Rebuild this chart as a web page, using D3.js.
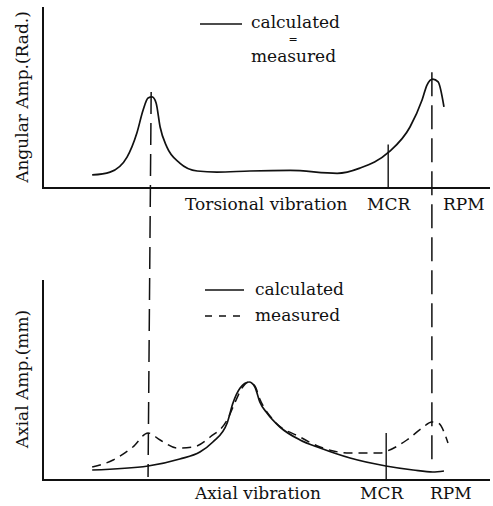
<!DOCTYPE html>
<html><head><meta charset="utf-8">
<script src="https://cdn.jsdelivr.net/npm/d3@7"></script>
<style>body{margin:0;background:#fff}svg{display:block}text{font-family:"DejaVu Serif",serif;fill:#111}</style>
</head><body><div id="chart"></div>
<script>
// Torsional vibration (calculated = measured): [speed, angular amplitude]
const torsionalX = [11.0,15.0,18.8,21.0,22.4,23.5,24.4,25.3,26.2,27.7,30.6,34.5,38.9,46.3,55.3,65.8,70.9,77.4,82.1,84.8,85.9,87.2,88.4,89.7];
const torsionalY = [7.2,8.8,17.1,30.4,43.1,49.7,50.3,47.0,33.7,22.7,13.8,9.4,8.8,9.4,9.7,8.1,11.0,19.9,33.7,48.6,56.9,60.2,58.6,44.8];
// Axial vibration, calculated
const axialCalcX = [11.0,23.5,30.6,35.1,38.0,41.2,42.5,44.1,46.1,47.4,48.5,50.1,53.0,57.5,62.0,68.7,76.7,82.8,87.2,89.7];
const axialCalcY = [5.0,7.0,10.5,14.0,19.0,28.5,38.5,46.0,49.0,46.5,39.0,33.5,26.5,20.0,16.0,11.0,7.0,5.0,4.0,4.5];
// Axial vibration, measured
const axialMeasX = [11.0,15.7,20.1,23.5,26.2,30.0,33.6,37.4,41.2,43.0,44.5,46.1,47.4,48.5,51.5,57.5,62.0,68.7,75.4,77.0,81.4,84.8,87.0,88.4,90.6];
const axialMeasY = [6.5,10.0,16.5,23.5,20.0,16.0,16.5,21.5,30.0,39.0,46.0,49.0,47.0,40.5,30.0,21.5,16.5,13.5,13.5,14.5,20.0,26.0,29.0,28.5,18.5];
// Reference speeds
const mcrSpeed = 77.0;
const resonance1 = [24.2, 23.5]; // top, bottom
const resonance2 = [87.0, 87.0];
const labels = {topY:"Angular Amp.(Rad.)", botY:"Axial Amp.(mm)", topX:"Torsional vibration", botX:"Axial vibration", mcr:"MCR", rpm:"RPM", calc:"calculated", meas:"measured", eq:"="};

const W=493,H=506;
const svg=d3.select("#chart").append("svg").attr("width",W).attr("height",H);
const x=d3.scaleLinear().domain([0,100]).range([43,490]);
const yT=d3.scaleLinear().domain([0,100]).range([188,7]);
const yB=d3.scaleLinear().domain([0,100]).range([480,280]);
const ink="#111";

function axes(y){
  svg.append("line").attr("x1",x(0)).attr("x2",x(0)).attr("y1",y(0)).attr("y2",y(100)).attr("stroke",ink).attr("stroke-width",2);
  svg.append("line").attr("x1",x(0)-1).attr("x2",x(100)).attr("y1",y(0)).attr("y2",y(0)).attr("stroke",ink).attr("stroke-width",2);
}
axes(yT); axes(yB);

const lineT=d3.line().x(d=>x(d[0])).y(d=>yT(d[1])).curve(d3.curveMonotoneX);
const lineB=d3.line().x(d=>x(d[0])).y(d=>yB(d[1])).curve(d3.curveMonotoneX);
svg.append("path").attr("d",lineT(d3.zip(torsionalX,torsionalY))).attr("fill","none").attr("stroke",ink).attr("stroke-width",1.7);
svg.append("path").attr("d",lineB(d3.zip(axialCalcX,axialCalcY))).attr("fill","none").attr("stroke",ink).attr("stroke-width",1.7);
svg.append("path").attr("d",lineB(d3.zip(axialMeasX,axialMeasY))).attr("fill","none").attr("stroke",ink).attr("stroke-width",1.5).attr("stroke-dasharray","9,6");

// MCR ticks
svg.append("line").attr("x1",x(mcrSpeed)+1).attr("x2",x(mcrSpeed)+1).attr("y1",yT(0)).attr("y2",yT(24)).attr("stroke",ink).attr("stroke-width",1.4);
svg.append("line").attr("x1",x(mcrSpeed)-1).attr("x2",x(mcrSpeed)-1).attr("y1",yB(0)).attr("y2",yB(23.5)).attr("stroke",ink).attr("stroke-width",1.4);
// resonance dashed links
svg.append("line").attr("x1",x(resonance1[0])).attr("x2",x(resonance1[1])).attr("y1",yT(53)).attr("y2",yB(1.5)).attr("stroke",ink).attr("stroke-width",1.5).attr("stroke-dasharray","22,9");
svg.append("line").attr("x1",x(resonance2[0])).attr("x2",x(resonance2[1])).attr("y1",yT(64)).attr("y2",yB(10)).attr("stroke",ink).attr("stroke-width",1.5).attr("stroke-dasharray","24,9");

// axis titles
svg.append("text").attr("transform","translate(28,97) rotate(-90)").attr("text-anchor","middle").attr("font-size",17).text(labels.topY);
svg.append("text").attr("transform","translate(28,379) rotate(-90)").attr("text-anchor","middle").attr("font-size",17).text(labels.botY);
svg.append("text").attr("x",185).attr("y",210).attr("font-size",17).text(labels.topX);
svg.append("text").attr("x",367).attr("y",210).attr("font-size",17).text(labels.mcr);
svg.append("text").attr("x",443).attr("y",210).attr("font-size",17).text(labels.rpm);
svg.append("text").attr("x",195).attr("y",499).attr("font-size",17).text(labels.botX);
svg.append("text").attr("x",360).attr("y",499).attr("font-size",17).text(labels.mcr);
svg.append("text").attr("x",430).attr("y",499).attr("font-size",17).text(labels.rpm);

// legends
svg.append("line").attr("x1",200).attr("x2",242).attr("y1",24).attr("y2",24).attr("stroke",ink).attr("stroke-width",1.6);
svg.append("text").attr("x",251).attr("y",28).attr("font-size",17).text(labels.calc);
svg.append("text").attr("x",293).attr("y",43).attr("font-size",11).attr("text-anchor","middle").text(labels.eq);
svg.append("text").attr("x",251).attr("y",62).attr("font-size",17).text(labels.meas);

svg.append("line").attr("x1",205).attr("x2",244).attr("y1",290).attr("y2",290).attr("stroke",ink).attr("stroke-width",1.6);
svg.append("text").attr("x",255).attr("y",295).attr("font-size",17).text(labels.calc);
svg.append("line").attr("x1",205).attr("x2",244).attr("y1",316).attr("y2",316).attr("stroke",ink).attr("stroke-width",1.5).attr("stroke-dasharray","7,7");
svg.append("text").attr("x",255).attr("y",321).attr("font-size",17).text(labels.meas);
</script></body></html>
